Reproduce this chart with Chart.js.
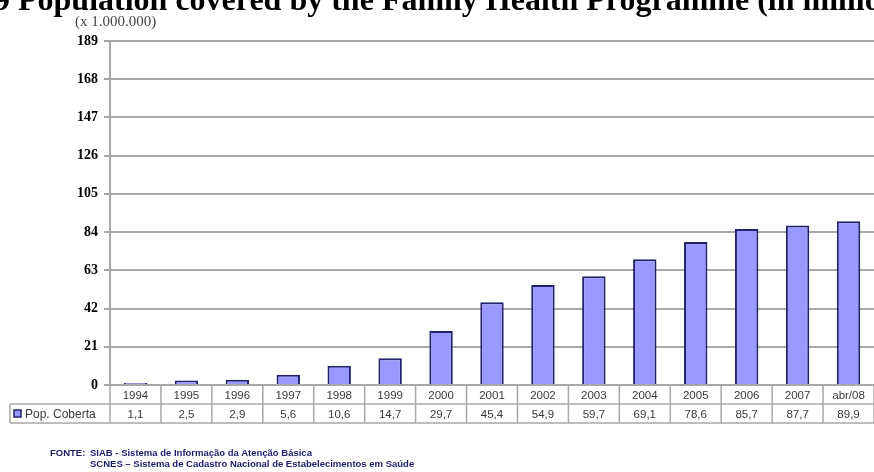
<!DOCTYPE html>
<html lang="en">
<head>
    <meta charset="UTF-8">
    <title>Population covered by the Family Health Programme</title>
    <script src="https://cdn.jsdelivr.net/npm/chart.js"></script>
    <style>
        body {
            margin: 0;
            background: #fff;
            width: 874px;
            height: 472px;
            overflow: hidden;
            position: relative;
        }

        #title {
            position: absolute;
            left: -6px;
            top: -17px;
            font-family: "Liberation Serif", "Times New Roman", serif;
            font-weight: bold;
            font-size: 32px;
            line-height: 32px;
            white-space: nowrap;
            color: #000;
        }

        #unit {
            position: absolute;
            left: 75px;
            top: 13px;
            font-family: "Liberation Serif", "Times New Roman", serif;
            font-size: 15px;
            color: #444;
        }

        #source {
            position: absolute;
            left: 50px;
            top: 447px;
            font-family: "Liberation Sans Narrow", "Liberation Sans", Arial, sans-serif;
            font-weight: bold;
            font-size: 9.5px;
            line-height: 11px;
            color: #1c1c6a;
        }

        #source span {
            display: inline-block;
            width: 40px;
        }

        #chartBox {
            position: absolute;
            left: 0;
            top: 0;
            width: 874px;
            height: 472px;
        }
    </style>
</head>
<body>
    <div id="chartBox"><canvas id="popChart"></canvas></div>
    <div id="title">9 Population covered by the Family Health Programme (in millions)</div>
    <div id="unit">(x 1.000.000)</div>
    <div id="source">
        <span>FONTE:</span>SIAB - Sistema de Informação da Atenção Básica<br>
        <span></span>SCNES – Sistema de Cadastro Nacional de Estabelecimentos em Saúde
    </div>

    <script>
        const years = ['1994', '1995', '1996', '1997', '1998', '1999', '2000', '2001',
                       '2002', '2003', '2004', '2005', '2006', '2007', 'abr/08'];
        const popCoberta = [1.1, 2.5, 2.9, 5.6, 10.6, 14.7, 29.7, 45.4,
                            54.9, 59.7, 69.1, 78.6, 85.7, 87.7, 89.9];
        const yTicks = [0, 21, 42, 63, 84, 105, 126, 147, 168, 189];
        const seriesName = 'Pop. Coberta';

        const barFill = '#9999ff';
        const barEdge = '#23236b';
        const lineGray = '#a8a8a8';

        // data table under the plot: years row + values row + legend cell
        const dataTable = {
            id: 'dataTable',
            afterDraw(chart) {
                const c = chart.ctx;
                const x = chart.scales.x;
                const area = chart.chartArea;
                const top = area.bottom;
                const row1 = top + 19;
                const row2 = row1 + 19;
                const step = x.getPixelForValue(1) - x.getPixelForValue(0);
                const left = x.getPixelForValue(0) - step / 2;
                const right = x.getPixelForValue(years.length - 1) + step / 2;

                c.save();
                c.strokeStyle = lineGray;
                c.lineWidth = 1.5;
                c.beginPath();
                c.moveTo(10, row1); c.lineTo(right, row1);
                c.moveTo(10, row2); c.lineTo(right, row2);
                c.moveTo(10, row1); c.lineTo(10, row2);
                for (let i = 0; i <= years.length; i++) {
                    const px = left + i * step;
                    c.moveTo(px, top); c.lineTo(px, row2);
                }
                c.stroke();

                c.fillStyle = '#3a3a3a';
                c.font = '11.5px "Liberation Sans", Arial, sans-serif';
                c.textAlign = 'center';
                c.textBaseline = 'middle';
                years.forEach((yr, i) => {
                    const px = x.getPixelForValue(i);
                    c.fillText(yr, px, (top + row1) / 2 + 1);
                    c.fillText(popCoberta[i].toFixed(1).replace('.', ','), px, (row1 + row2) / 2 + 1);
                });

                // legend key
                c.fillStyle = barFill;
                c.strokeStyle = barEdge;
                c.lineWidth = 1.5;
                c.fillRect(14, row1 + 6, 7, 7);
                c.strokeRect(14, row1 + 6, 7, 7);
                c.fillStyle = '#3a3a3a';
                c.textAlign = 'left';
                c.font = '12px "Liberation Sans", Arial, sans-serif';
                c.fillText(seriesName, 25, (row1 + row2) / 2 + 1);
                c.restore();
            }
        };

        const ctx = document.getElementById('popChart').getContext('2d');

        const chart = new Chart(ctx, {
            type: 'bar',
            data: {
                labels: years,
                datasets: [{
                    label: seriesName,
                    data: popCoberta,
                    backgroundColor: barFill,
                    borderColor: barEdge,
                    borderWidth: 2,
                    barPercentage: 0.46,
                    categoryPercentage: 1.0,
                }],
            },
            options: {
                responsive: true,
                maintainAspectRatio: false,
                animation: false,
                layout: {
                    padding: { left: 0, right: 0, top: 41, bottom: 87 },
                },
                plugins: {
                    legend: { display: false },
                    tooltip: { enabled: false },
                },
                scales: {
                    x: {
                        ticks: { display: false },
                        grid: { display: false, drawTicks: false },
                        border: { display: false },
                    },
                    y: {
                        min: 0,
                        max: 189,
                        afterBuildTicks(scale) {
                            scale.ticks = yTicks.map(v => ({ value: v }));
                        },
                        afterFit(scale) {
                            scale.width = 110;
                        },
                        ticks: {
                            color: '#000',
                            padding: 6,
                            font: {
                                family: '"Liberation Serif", "Times New Roman", serif',
                                weight: 'bold',
                                size: 14,
                            },
                        },
                        grid: {
                            color: lineGray,
                            lineWidth: 2,
                            tickLength: 6,
                        },
                        border: { color: lineGray, width: 2 },
                    },
                },
            },
            plugins: [dataTable],
        });
    </script>
</body>
</html>
